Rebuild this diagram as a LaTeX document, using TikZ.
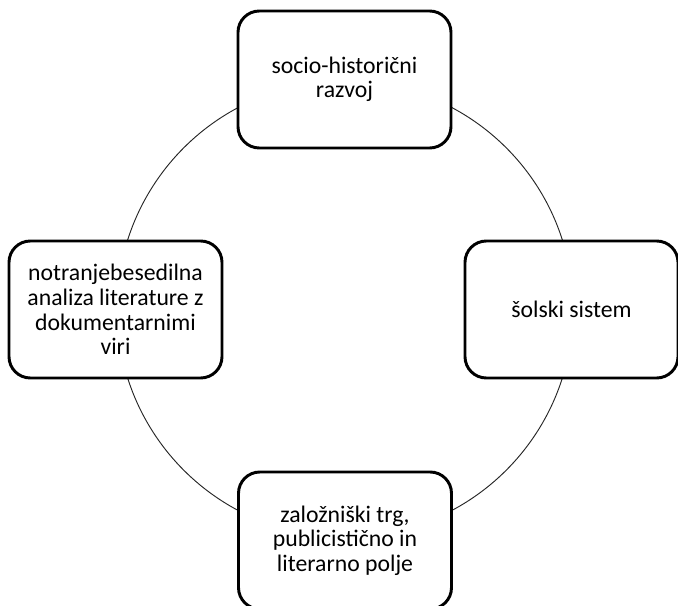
\documentclass[tikz,border=0pt]{standalone}
\usepackage{fontspec}
\setmainfont{Carlito}
\begin{document}
\begin{tikzpicture}[x=0.75pt,y=-0.75pt,
  boxnode/.style={draw=black, line width=2.2pt, fill=white, rounded corners=16pt,
    minimum width=213*0.75pt, minimum height=137*0.75pt, align=center,
    font=\fontsize{17.8pt}{18.4pt}\selectfont, inner sep=0pt}]
\useasboundingbox (0,0) rectangle (678,606);
\coordinate (c) at (345,309);
\draw[line width=0.7pt, black!85] (c) circle[radius=228*0.75pt];
\node[boxnode] (top) at (344.5,79.5) {socio-historični\\razvoj};
\node[boxnode] (left) at (115.5,309.5) {notranjebesedilna\\analiza literature z\\dokumentarnimi\\viri};
\node[boxnode] (right) at (571.5,309.5) {šolski sistem};
\node[boxnode] (bottom) at (345,540.5) {založniški trg,\\publicistično in\\literarno polje};
\end{tikzpicture}
\end{document}
